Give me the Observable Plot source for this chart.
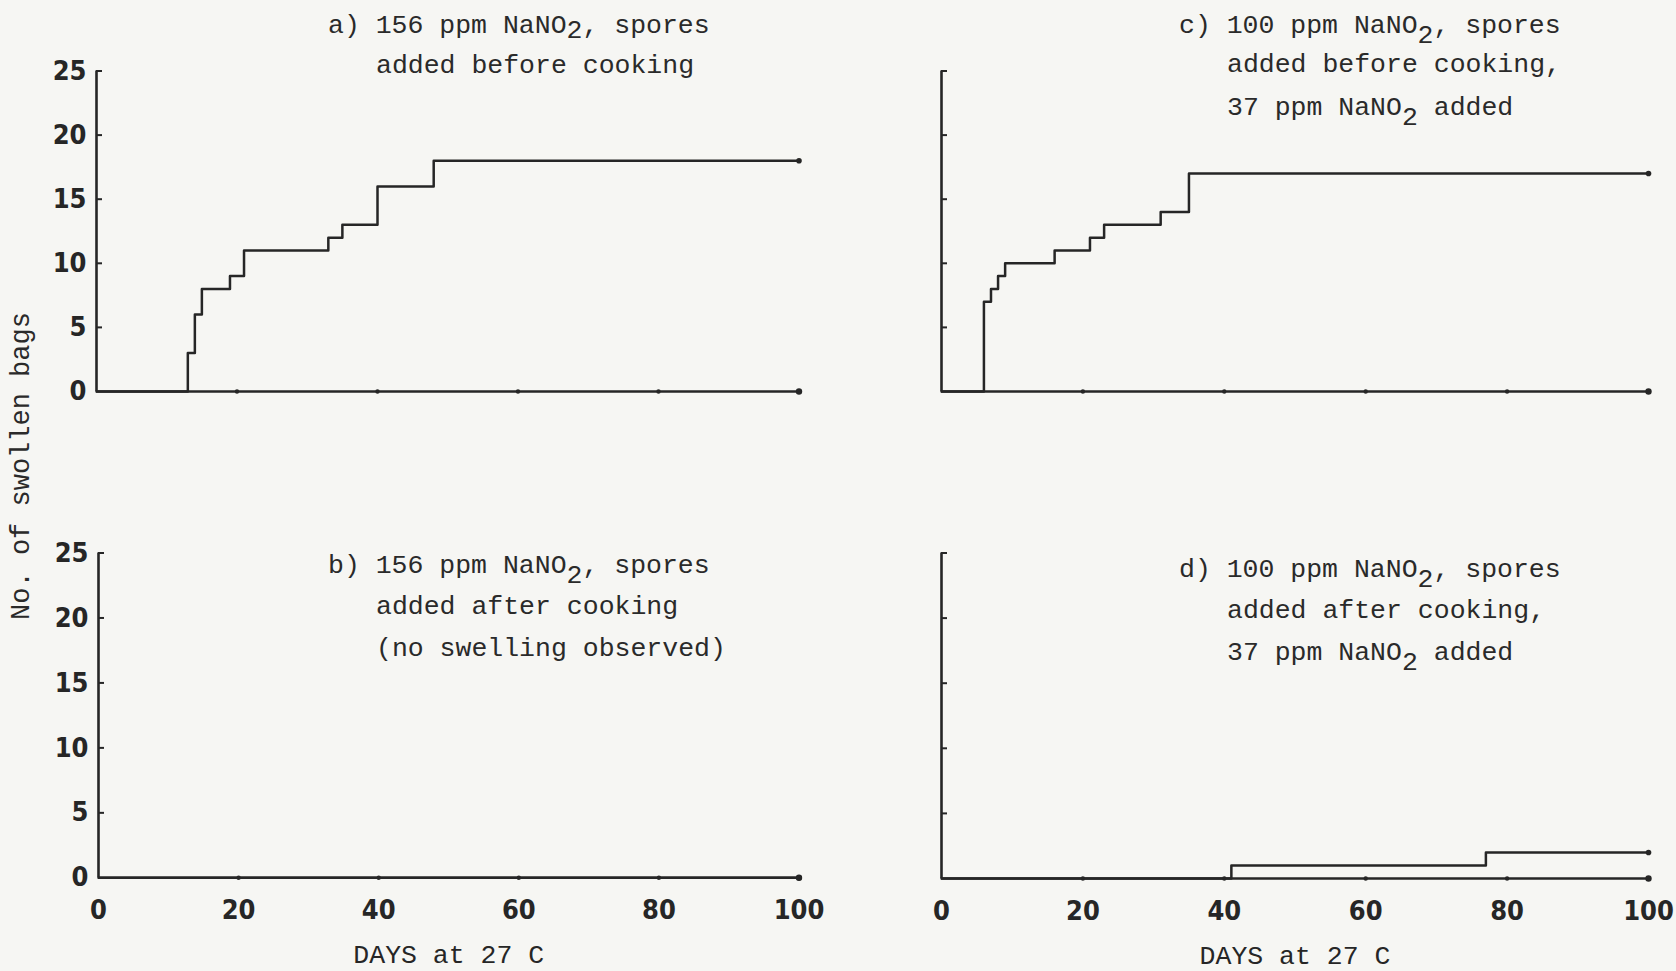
<!DOCTYPE html>
<html><head><meta charset="utf-8">
<script src="https://cdn.jsdelivr.net/npm/d3@7"></script>
<script src="https://cdn.jsdelivr.net/npm/@observablehq/plot@0.6"></script>
<style>
html,body{margin:0;padding:0;background:#f6f6f3;}
#root{position:relative;width:1676px;height:971px;overflow:hidden;background:#f6f6f3;}
.panel{position:absolute;}
.panel svg{background:transparent;}
.note{position:absolute;font-family:"Liberation Mono",monospace;font-size:26.5px;line-height:26.5px;color:#2a2a2a;white-space:pre;}
.sub{position:relative;top:0.38em;}
.ylab{position:absolute;font-family:"Liberation Mono",monospace;font-size:27px;line-height:27px;color:#2a2a2a;white-space:pre;transform:translate(-50%,-50%) rotate(-90deg);}
svg g[aria-label$="tick label"] text{font-stretch:condensed;font-variant-numeric:slashed-zero;}
</style></head><body><div id="root"></div>
<script>
// tick labels
const xTicks = [0, 20, 40, 60, 80, 100];
const yTicks = [0, 5, 10, 15, 20, 25];
const xTitle = "DAYS at 27 C";
const yTitle = "No. of swollen bags";

// a) 156 ppm, spores added before cooking
const aDays = [0, 13, 14, 15, 19, 21, 33, 35, 40, 48, 100];
const aBags = [0, 3, 6, 8, 9, 11, 12, 13, 16, 18, 18];
// b) 156 ppm, spores added after cooking (no swelling)
const bDays = [0, 100];
const bBags = [0, 0];
// c) 100 ppm, spores before cooking, 37 ppm added
const cDays = [0, 6, 7, 8, 9, 16, 21, 23, 31, 35, 100];
const cBags = [0, 7, 8, 9, 10, 11, 12, 13, 14, 17, 17];
// d) 100 ppm, spores after cooking, 37 ppm added
const dDays = [0, 41, 77, 100];
const dBags = [0, 1, 2, 2];

const ink = "#262626";
const tickFont = "'Liberation Sans Narrow', 'DejaVu Sans Condensed', 'DejaVu Sans Mono', monospace";
const root = document.getElementById("root");

function panel({days, bags, left, top, width, height, mL, mR, mT, mB, yLabels, xLabels}) {
  const series = days.map((d, i) => ({day: d, bags: bags[i]}));
  const x0 = xTicks[0], x1 = xTicks[xTicks.length - 1];
  const y0 = yTicks[0], y1 = yTicks[yTicks.length - 1];
  const marks = [
    Plot.ruleX([x0], {y1: y0, y2: y1, stroke: ink, strokeWidth: 2.6}),
    Plot.ruleY([y0], {x1: x0, x2: x1, stroke: ink, strokeWidth: 2.6}),
    Plot.axisY({ticks: yTicks.slice(1), tickSize: -6, tickFormat: () => "", stroke: ink, strokeWidth: 2, label: null}),
    Plot.dot(xTicks.slice(1, -1), {x: d => d, y: () => y0, r: 2.2, fill: ink, stroke: "none"}),
    Plot.dot([x1], {x: d => d, y: () => y0, r: 3.2, fill: ink, stroke: "none"}),
    Plot.line(series, {x: "day", y: "bags", curve: "step-after", stroke: ink, strokeWidth: 2.5}),
    Plot.dot([series[series.length - 1]], {x: "day", y: "bags", r: 2.8, fill: ink, stroke: "none"})
  ];
  if (yLabels) {
    marks.push(Plot.axisY({ticks: yTicks, tickSize: 0, tickPadding: 10, label: null,
      fontFamily: tickFont, fontSize: 27, fontWeight: "bold", fill: ink}));
  }
  if (xLabels) {
    marks.push(Plot.axisX({ticks: xTicks, tickSize: 0, tickPadding: 22, label: null,
      fontFamily: tickFont, fontSize: 27, fontWeight: "bold", fill: ink}));
    marks.push(Plot.text([xTitle], {frameAnchor: "bottom", dy: 77, lineAnchor: "middle",
      fontFamily: "Liberation Mono", fontSize: 26.5, fill: ink}));
  }
  const chart = Plot.plot({
    width, height,
    marginLeft: mL, marginRight: mR, marginTop: mT, marginBottom: mB,
    style: {background: "transparent", overflow: "visible"},
    x: {domain: [x0, x1], label: null, axis: xLabels ? undefined : null},
    y: {domain: [y0, y1], label: null},
    marks
  });
  const div = document.createElement("div");
  div.className = "panel";
  div.style.left = left + "px";
  div.style.top = top + "px";
  div.appendChild(chart);
  root.appendChild(div);
}

panel({days: aDays, bags: aBags, left: 0, top: 0, width: 840, height: 430, mL: 96, mR: 41.5, mT: 70.5, mB: 39, yLabels: true, xLabels: false});
panel({days: bDays, bags: bBags, left: 0, top: 485, width: 840, height: 486, mL: 98, mR: 41.5, mT: 67.5, mB: 93.7, yLabels: true, xLabels: true});
panel({days: cDays, bags: cBags, left: 860, top: 0, width: 816, height: 430, mL: 81, mR: 28, mT: 70.5, mB: 39, yLabels: false, xLabels: false});
panel({days: dDays, bags: dBags, left: 860, top: 485, width: 816, height: 486, mL: 81, mR: 28, mT: 67.5, mB: 93, yLabels: false, xLabels: true});

// annotations
const notes = [
  {x: 328, y: 23.5, html: 'a) 156 ppm NaNO<span class="sub" style="top:0.2em">2</span>, spores'},
  {x: 376, y: 64, html: 'added before cooking'},
  {x: 328, y: 564, html: 'b) 156 ppm NaNO<span class="sub">2</span>, spores'},
  {x: 376, y: 605, html: 'added after cooking'},
  {x: 376, y: 646.5, html: '(no swelling observed)'},
  {x: 1179, y: 23.5, html: 'c) 100 ppm NaNO<span class="sub">2</span>, spores'},
  {x: 1227, y: 63, html: 'added before cooking,'},
  {x: 1227, y: 105.5, html: '37 ppm NaNO<span class="sub">2</span> added'},
  {x: 1179, y: 567.5, html: 'd) 100 ppm NaNO<span class="sub">2</span>, spores'},
  {x: 1227, y: 609, html: 'added after cooking,'},
  {x: 1227, y: 651, html: '37 ppm NaNO<span class="sub">2</span> added'}
];
for (const n of notes) {
  const d = document.createElement("div");
  d.className = "note";
  d.style.left = n.x + "px";
  d.style.top = (n.y - 11) + "px";
  d.innerHTML = n.html;
  root.appendChild(d);
}
const yl = document.createElement("div");
yl.className = "ylab";
yl.style.left = "22px";
yl.style.top = "466px";
yl.textContent = yTitle;
root.appendChild(yl);
</script>
</body></html>
